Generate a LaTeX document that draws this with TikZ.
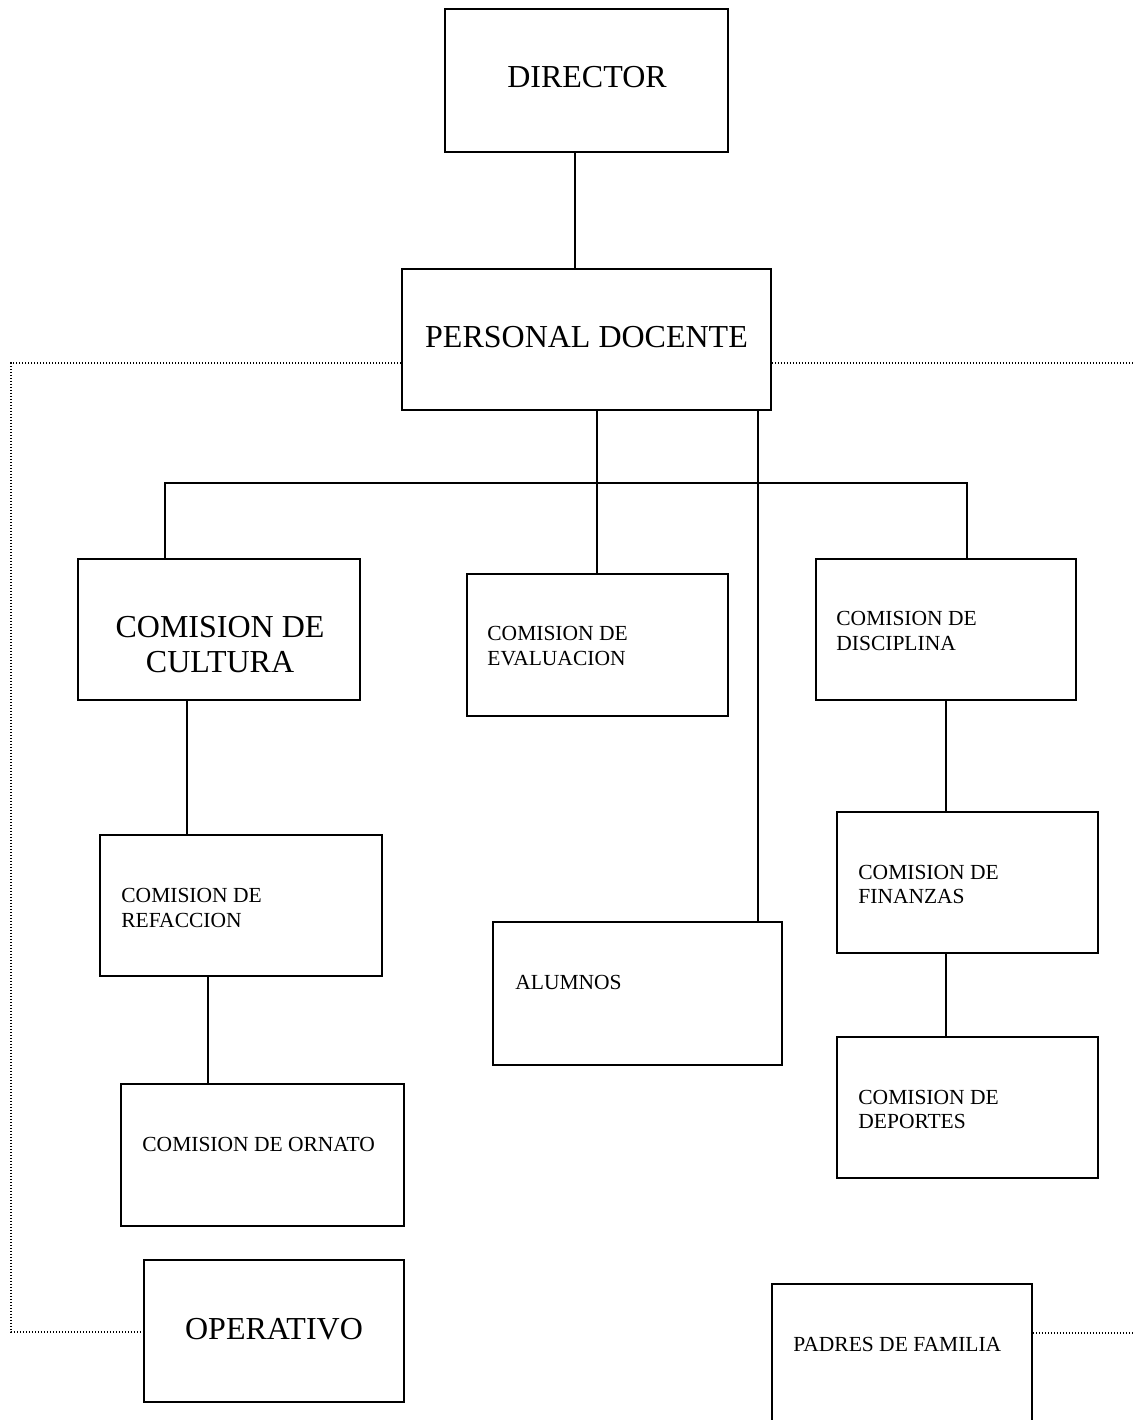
\documentclass[tikz,border=0pt]{standalone}
\usepackage{fontspec}
\setmainfont{Liberation Serif}
\usetikzlibrary{fit}
\tikzset{box/.style={draw,line width=0.9pt,inner sep=0pt},
  txt/.style={inner sep=0pt,font=\fontsize{10.75}{12.4}\selectfont,align=left},
  bigtxt/.style={inner sep=0pt,font=\fontsize{16}{17.5}\selectfont,align=center},
  link/.style={line width=0.9pt},
  dots/.style={line width=0.7pt,dash pattern=on 0.6pt off 0.9pt}}

\begin{document}
\begin{tikzpicture}[x=0.5pt,y=-0.5pt]
    \useasboundingbox (0,0) rectangle (1135,1420);
    % cajas
    \node[box,fit={(445,9) (728,152)}] (dir) {};
    \node[box,fit={(402,269) (771,410)}] (doc) {};
    \node[box,fit={(78,559) (360,700)}] (cul) {};
    \node[box,fit={(467,574) (728,716)}] (eva) {};
    \node[box,fit={(816,559) (1076,700)}] (dis) {};
    \node[box,fit={(100,835) (382,976)}] (ref) {};
    \node[box,fit={(121,1084) (404,1226)}] (orn) {};
    \node[box,fit={(493,922) (782,1065)}] (alu) {};
    \node[box,fit={(837,812) (1098,953)}] (fin) {};
    \node[box,fit={(837,1037) (1098,1178)}] (dep) {};
    \node[box,fit={(144,1260) (404,1402)}] (ope) {};
    \node[box,fit={(772,1284) (1032,1440)}] (pad) {};

    % textos
    \node[bigtxt,anchor=base] (tdir) at (587,87) {DIRECTOR};
    \node[bigtxt,anchor=base] (tdoc) at (586.5,347) {PERSONAL DOCENTE};
    \node[bigtxt] (tcul) at (220,644.5) {COMISION DE\\CULTURA};
    \node[txt,anchor=west] (teva) at (487,646) {COMISION DE\\EVALUACION};
    \node[txt,anchor=west] (tdis) at (836,631) {COMISION DE\\DISCIPLINA};
    \node[txt,anchor=west] (tref) at (121,908) {COMISION DE\\REFACCION};
    \node[txt,anchor=base west] (torn) at (142,1151) {COMISION DE ORNATO};
    \node[txt,anchor=base west] (talu) at (515,989) {ALUMNOS};
    \node[txt,anchor=west] (tfin) at (858,884.5) {COMISION DE\\FINANZAS};
    \node[txt,anchor=west] (tdep) at (858,1109.5) {COMISION DE\\DEPORTES};
    \node[bigtxt,anchor=base] (tope) at (274,1339) {OPERATIVO};
    \node[txt,anchor=base west] (tpad) at (793,1351) {PADRES DE FAMILIA};

    % lineas
    \coordinate (bus) at (597,483);
    \draw[link] ([xshift=-5.75pt]dir.south) -- ([xshift=-5.75pt]dir.south |- doc.north);
    \draw[link] ([xshift=5.25pt]doc.south) -- ([xshift=5.25pt]doc.south |- eva.north);
    \draw[link] ([xshift=-27pt]cul.north) |- (bus) -| ([xshift=10.5pt]dis.north);
    \draw[link] ([xshift=85.75pt]doc.south) -- ([xshift=85.75pt]doc.south |- alu.north);
    \draw[link] ([xshift=-16pt]cul.south) -- ([xshift=-16pt]cul.south |- ref.north);
    \draw[link] ([xshift=-16.5pt]ref.south) -- ([xshift=-16.5pt]ref.south |- orn.north);
    \draw[link] (dis.south) -- (dis.south |- fin.north);
    \draw[link] ([xshift=-10.75pt]fin.south) -- ([xshift=-10.75pt]fin.south |- dep.north);

    % punteadas
    \coordinate (lt) at (11,363);
    \coordinate (lb) at (11,1332);
    \coordinate (r1) at (1135,363);
    \coordinate (r2) at (1135,1333);
    \draw[dots] ([yshift=-11.75pt]doc.west) -- (lt) -- (lb) -- (ope.west |- lb);
    \draw[dots] ([yshift=-11.75pt]doc.east) -- (r1);
    \draw[dots] (pad.east |- r2) -- (r2);
\end{tikzpicture}
\end{document}
